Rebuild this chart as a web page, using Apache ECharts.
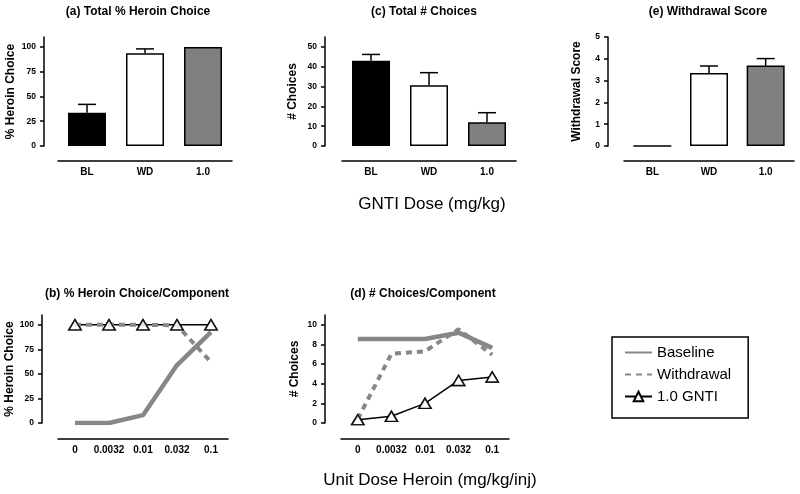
<!DOCTYPE html>
<html><head><meta charset="utf-8">
<script src="https://cdn.jsdelivr.net/npm/echarts@6/dist/echarts.min.js"></script>
<style>html,body{margin:0;padding:0;background:#fff}#c{width:800px;height:494px}</style>
</head><body><div id="c"></div>
<script>
// ---- data ----
const barCats = ['BL', 'WD', '1.0'];
const heroinChoice = [33.5, 93.5, 100];
const heroinChoiceErr = [8.5, 4.5, 0];
const totalChoices = [43, 30.7, 12];
const totalChoicesErr = [3.2, 6.3, 4.8];
const wdScore = [0, 3.35, 3.69];
const wdScoreErr = [0, 0.32, 0.32];
const doseCats = ['0', '0.0032', '0.01', '0.032', '0.1'];
const pctBaseline = [0, 0, 8, 59, 92.5];
const pctWithdrawal = [100, 100, 100, 99.5, 62];
const pctGNTI = [100, 100, 100, 100, 100];
const numBaseline = [8.55, 8.55, 8.55, 9.2, 7.65];
const numWithdrawal = [0.4, 7.05, 7.3, 9.55, 6.95];
const numGNTI = [0.34, 0.68, 2.0, 4.33, 4.68];
const pctTicks = [0, 25, 50, 75, 100];
const choiceTicks = [0, 10, 20, 30, 40, 50];
const wdTicks = [0, 1, 2, 3, 4, 5];
const numTicks = [0, 2, 4, 6, 8, 10];
const legendNames = ['Baseline', 'Withdrawal', '1.0 GNTI'];
const barColors = ['#000000', '#ffffff', '#808080'];

const FF = '"Liberation Sans", Arial, sans-serif';
const GRAY = '#878787';

const grids = [
  {left: 58, width: 174, top: 37, height: 109},
  {left: 342, width: 174, top: 37, height: 109},
  {left: 624, width: 170, top: 37, height: 109},
  {left: 58, width: 170, top: 315, height: 108},
  {left: 341, width: 168, top: 315, height: 108}
];

function xAx(gi, cats, offset) {
  return {type: 'category', gridIndex: gi, data: cats, offset: offset, boundaryGap: true,
    axisLine: {show: true, onZero: false, lineStyle: {color: '#000', width: 1.5}},
    axisTick: {show: false},
    axisLabel: {interval: 0, hideOverlap: false, color: '#000', fontFamily: FF, fontWeight: 'bold', fontSize: 10, margin: 6},
    splitLine: {show: false}};
}
function yAx(gi, max, ticks, name, gap, offset) {
  return {type: 'value', gridIndex: gi, min: 0, max: max, offset: offset,
    name: name, nameLocation: 'middle', nameGap: gap, nameRotate: 90,
    nameTextStyle: {color: '#000', fontFamily: FF, fontWeight: 'bold', fontSize: 12},
    axisLine: {show: true, onZero: false, lineStyle: {color: '#000', width: 1.5}},
    axisTick: {show: true, length: 4, customValues: ticks, lineStyle: {color: '#000', width: 1.5}},
    axisLabel: {customValues: ticks, color: '#000', fontFamily: FF, fontWeight: 'bold', fontSize: 8.5, margin: 8},
    splitLine: {show: false}};
}
function barSeries(gi, vals) {
  return {type: 'bar', xAxisIndex: gi, yAxisIndex: gi, barWidth: 38, z: 2,
    data: vals.map((v, i) => ({value: v, itemStyle: {color: barColors[i]}})),
    itemStyle: {borderColor: '#000', borderWidth: 1.5}};
}
function errSeries(gi, vals, errs) {
  return {type: 'custom', xAxisIndex: gi, yAxisIndex: gi, z: 1,
    encode: {x: 0, y: [1, 2]},
    data: vals.map((v, i) => [i, v, v + errs[i]]),
    renderItem: function (params, api) {
      const i = api.value(0), lo = api.value(1), hi = api.value(2);
      if (hi <= lo) return null;
      const p1 = api.coord([i, lo]), p2 = api.coord([i, hi]);
      const hw = 9;
      return {type: 'group', children: [
        {type: 'line', shape: {x1: p1[0], y1: p1[1], x2: p2[0], y2: p2[1]}, style: {stroke: '#000', lineWidth: 1.5}},
        {type: 'line', shape: {x1: p2[0] - hw, y1: p2[1], x2: p2[0] + hw, y2: p2[1]}, style: {stroke: '#000', lineWidth: 1.5}}
      ]};
    }};
}
function lineSet(gi, base, wd, gnti) {
  return [
    {type: 'line', name: legendNames[0], xAxisIndex: gi, yAxisIndex: gi, data: base, symbol: 'none', z: 2,
      lineStyle: {color: GRAY, width: 4.5}, itemStyle: {color: GRAY}},
    {type: 'line', name: legendNames[2], xAxisIndex: gi, yAxisIndex: gi, data: gnti, z: 3,
      symbol: 'triangle', symbolSize: [12, 10], showSymbol: true,
      lineStyle: {color: '#000', width: 1.5}, itemStyle: {color: '#fff', borderColor: '#000', borderWidth: 1.5}},
    {type: 'line', name: legendNames[1], xAxisIndex: gi, yAxisIndex: gi, data: wd, symbol: 'none', z: 4,
      lineStyle: {color: GRAY, width: 4, type: [6, 5]}, itemStyle: {color: GRAY}},
    {type: 'scatter', name: 'gnti-markers', xAxisIndex: gi, yAxisIndex: gi, data: gnti, z: 5,
      symbol: 'triangle', symbolSize: [12, 10],
      itemStyle: {color: '#fff', borderColor: '#000', borderWidth: 1.5}}
  ];
}
function txt(x, y, s, size, bold) {
  return {type: 'text', x: x, y: y, style: {text: s, fill: '#000', fontFamily: FF, fontSize: size,
    fontWeight: bold ? 'bold' : 'normal', align: 'center', verticalAlign: 'middle'}};
}

const option = {
  animation: false,
  backgroundColor: '#fff',
  grid: grids,
  xAxis: [xAx(0, barCats, 15), xAx(1, barCats, 15), xAx(2, barCats, 15), xAx(3, doseCats, 16), xAx(4, doseCats, 16)],
  yAxis: [
    yAx(0, 110, pctTicks, '% Heroin Choice', 27.5, 14),
    yAx(1, 55, choiceTicks, '# Choices', 26, 17),
    yAx(2, 5, wdTicks, 'Withdrawal Score', 25, 16),
    yAx(3, 110, pctTicks, '% Heroin Choice', 24, 16),
    yAx(4, 11, numTicks, '# Choices', 24.5, 16)
  ],
  legend: {
    data: [
      {name: legendNames[0], itemStyle: {opacity: 0}},
      {name: legendNames[1], itemStyle: {opacity: 0}},
      {name: legendNames[2]}
    ],
    orient: 'vertical', left: 612, top: 337,
    itemWidth: 27, itemHeight: 12, itemGap: 7, padding: [8, 17, 14, 12],
    borderColor: '#000', borderWidth: 1.5, selectedMode: false,
    textStyle: {color: '#000', fontFamily: FF, fontSize: 15}},
  graphic: [
    txt(138, 12, '(a) Total % Heroin Choice', 12, true),
    txt(424, 12, '(c) Total # Choices', 12, true),
    txt(708, 12, '(e) Withdrawal Score', 12, true),
    txt(137, 294, '(b) % Heroin Choice/Component', 12, true),
    txt(423, 294, '(d) # Choices/Component', 12, true),
    txt(432, 204, 'GNTI Dose (mg/kg)', 17, false),
    txt(430, 480, 'Unit Dose Heroin (mg/kg/inj)', 17, false)
  ],
  series: [
    errSeries(0, heroinChoice, heroinChoiceErr), barSeries(0, heroinChoice),
    errSeries(1, totalChoices, totalChoicesErr), barSeries(1, totalChoices),
    errSeries(2, wdScore, wdScoreErr), barSeries(2, wdScore)
  ].concat(lineSet(3, pctBaseline, pctWithdrawal, pctGNTI), lineSet(4, numBaseline, numWithdrawal, numGNTI))
};
const chart = echarts.init(document.getElementById('c'), null, {renderer: 'canvas'});
chart.setOption(option);
</script>
</body></html>
